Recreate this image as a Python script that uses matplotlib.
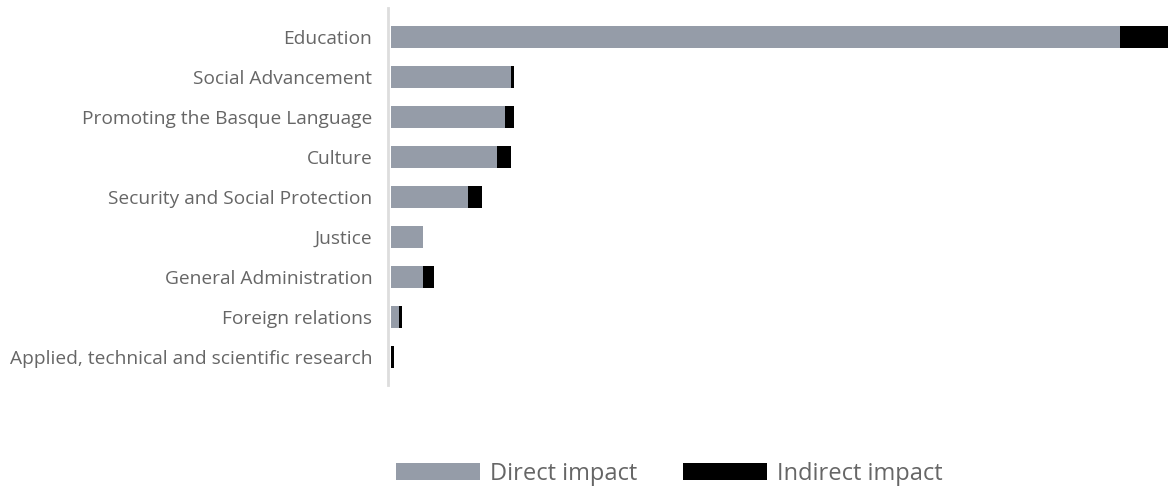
import matplotlib
matplotlib.use("Agg")
import matplotlib.pyplot as plt
from matplotlib.patches import Patch

# %% data
categories = ["Education", "Social Advancement", "Promoting the Basque Language",
              "Culture", "Security and Social Protection", "Justice",
              "General Administration", "Foreign relations",
              "Applied, technical and scientific research"]
direct = [729, 120, 114, 106, 77, 32, 32, 8, 0]
indirect = [48, 3, 9, 14, 14, 0, 11, 3, 3]
series_labels = ["Direct impact", "Indirect impact"]

gray = "#959ca8"
text_col = "#666666"

plt.rcParams["font.family"] = ["Open Sans", "DejaVu Sans"]

# %% figure
fig = plt.figure(figsize=(11.68, 4.9), dpi=100)
ax = fig.add_axes([391 / 1168, 1 - 385 / 490, 1 - 391 / 1168, 377 / 490])

y = range(len(categories))
ax.barh(y, direct, height=0.55, color=gray)
ax.barh(y, indirect, left=direct, height=0.55, color="black")

ax.set_xlim(0, max(d + i for d, i in zip(direct, indirect)))
ax.set_ylim(len(categories) - 0.3, -0.725)
ax.set_yticks(list(y))
ax.set_yticklabels(categories)
ax.tick_params(axis="y", length=0, pad=11.5, labelsize=13.8,
               labelcolor=text_col)
ax.set_xticks([])

for s in ["top", "right", "bottom"]:
    ax.spines[s].set_visible(False)
ax.spines["left"].set_color("#dddddd")
ax.spines["left"].set_linewidth(2)
ax.spines["left"].set_position(("outward", 2))

# %% legend
handles = [Patch(facecolor=gray), Patch(facecolor="black")]
fig.legend(handles, series_labels, loc="center left",
           bbox_to_anchor=(396 / 1168, 1 - 474 / 490),
           ncol=2, frameon=False, fontsize=17, handlelength=3.56,
           handleheight=0.76, handletextpad=0.42, columnspacing=1.95,
           borderpad=0, borderaxespad=0, labelcolor=text_col)

fig.savefig("out.png", dpi=100)
